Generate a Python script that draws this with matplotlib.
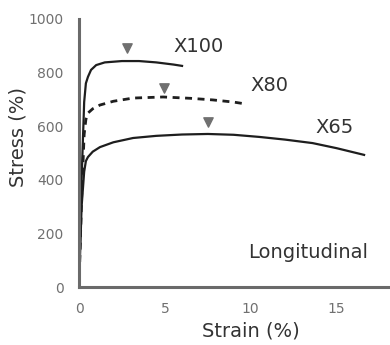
import matplotlib
matplotlib.use("Agg")
import matplotlib.pyplot as plt

# X100 curve
x100_strain = [0, 0.15, 0.3, 0.4, 0.52, 0.7, 1.0, 1.5, 2.5, 3.5, 4.5, 5.5, 6.0]
x100_stress = [0, 400, 690, 760, 784, 810, 828, 838, 843, 843, 838, 830, 825]

# X80 curve (dashed)
x80_strain = [0, 0.15, 0.3, 0.4, 0.52, 0.8, 1.22, 2.0, 3.15, 4.9, 6.5, 7.8, 9.0, 9.7]
x80_stress = [0, 330, 570, 625, 649, 665, 679, 693, 705, 709, 704, 698, 690, 683]

# X65 curve
x65_strain = [0, 0.15, 0.3, 0.4, 0.52, 0.8, 1.22, 2, 3.15, 4.5, 6, 7.5, 9, 10.5, 12, 13.6, 15, 16.6]
x65_stress = [0, 300, 430, 470, 485, 505, 522, 540, 556, 564, 569, 571, 568, 560, 550, 537, 518, 493]

# peak markers
peak_strain = [2.8, 4.96, 7.5]
peak_stress = [890, 742, 616]

grades = ["X100", "X80", "X65"]
label_pos = [(5.48, 899), (9.97, 750), (13.76, 597)]

fig = plt.figure(figsize=(3.9, 3.45), dpi=100)
ax = fig.add_axes([0.2026, 0.168, 0.797, 0.777])

ax.plot(x100_strain, x100_stress, color="#1e1e1e", lw=1.6)
ax.plot(x80_strain, x80_stress, color="#1e1e1e", lw=2, linestyle=(0, (2.5, 2)))
ax.plot(x65_strain, x65_stress, color="#1e1e1e", lw=1.6)
ax.scatter(peak_strain, peak_stress, marker="v", s=45, color="#707070", zorder=3)

for g, (lx, ly) in zip(grades, label_pos):
    ax.text(lx, ly, g, fontsize=14, color="#333333", va="center")
ax.text(9.85, 127, "Longitudinal", fontsize=14, color="#333333", va="center")

ax.set_xlim(0, 18.1)
ax.set_ylim(0, 1000)
ax.set_xticks([0, 5, 10, 15])
ax.set_yticks([0, 200, 400, 600, 800, 1000])
ax.tick_params(length=0, labelsize=10, labelcolor="#707070")
ax.tick_params(axis="y", pad=11)
ax.tick_params(axis="x", pad=11)
for s in ["top", "right"]:
    ax.spines[s].set_visible(False)
for s in ["left", "bottom"]:
    ax.spines[s].set_color("#6a6a6a")
    ax.spines[s].set_linewidth(2.2)

ax.set_xlabel("Strain (%)", fontsize=14, color="#333333")
ax.set_ylabel("Stress (%)", fontsize=14, color="#333333")
ax.xaxis.set_label_coords(0.553, -0.13)
ax.yaxis.set_label_coords(-0.167, 0.56)

fig.savefig("out.png", dpi=100)
